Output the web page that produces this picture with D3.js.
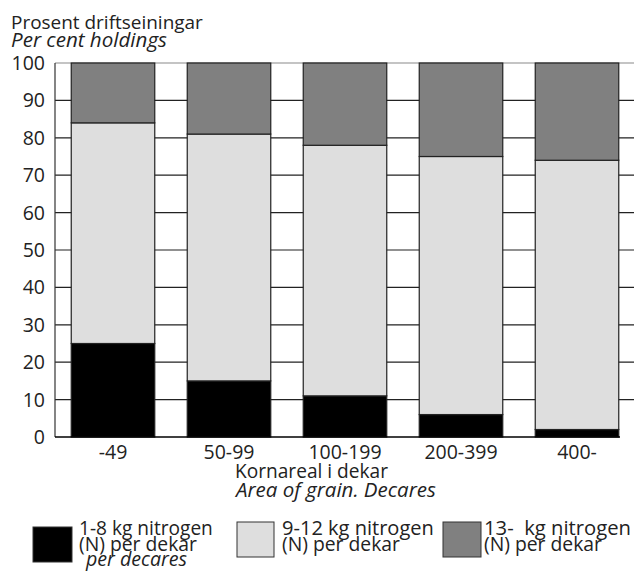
<!DOCTYPE html>
<html>
<head>
<meta charset="utf-8">
<script src="https://cdn.jsdelivr.net/npm/d3@7"></script>
<style>
body { margin:0; background:#fff; }
svg text { font-family: "Open Sans", "Noto Sans", sans-serif; fill:#222; }
</style>
</head>
<body>
<svg id="chart" width="634" height="573"></svg>
<script>
const categories = ["-49", "50-99", "100-199", "200-399", "400-"];
const low = [25, 15, 11, 6, 2];        // 1-8 kg
const mid = [59, 66, 67, 69, 72];      // 9-12 kg
const high = [16, 19, 22, 25, 26];     // 13- kg
const yTicks = [0, 10, 20, 30, 40, 50, 60, 70, 80, 90, 100];
const seriesKeys = ["low", "mid", "high"];
const colors = { low: "#000000", mid: "#dedede", high: "#808080" };

(function () {
const svg = d3.select("#chart");
const pLeft = 55, pRight = 635, pTop = 63, pBottom = 437;

const x = d3.scaleBand().domain(categories).range([pLeft, pRight]).paddingInner(0.28).paddingOuter(0.14);
const y = d3.scaleLinear().domain([0, 100]).range([pBottom, pTop]);

const table = categories.map((c, i) => ({ cat: c, low: low[i], mid: mid[i], high: high[i] }));
const stacked = d3.stack().keys(seriesKeys)(table);

// fit a text to a target width
function fit(sel, w) {
  sel.attr("font-size", 20);
  const m = sel.node().getComputedTextLength();
  if (m > 0) sel.attr("font-size", (20 * w / m).toFixed(2));
  return sel;
}

// gridlines
svg.append("g").selectAll("line").data(yTicks.filter(d => d > 0)).join("line")
  .attr("x1", pLeft).attr("x2", 634)
  .attr("y1", d => y(d)).attr("y2", d => y(d))
  .attr("stroke", d => d === 100 ? "#8a8a8a" : "#222").attr("stroke-width", 1.2);

// bars
svg.append("g").selectAll("g").data(stacked).join("g")
  .attr("fill", d => colors[d.key])
  .selectAll("rect").data(d => d).join("rect")
  .attr("x", d => x(d.data.cat))
  .attr("width", x.bandwidth())
  .attr("y", d => y(d[1]))
  .attr("height", d => y(d[0]) - y(d[1]))
  .attr("stroke", "#222").attr("stroke-width", 1.2);

// y axis line
svg.append("line").attr("x1", pLeft).attr("x2", pLeft).attr("y1", pTop).attr("y2", pBottom)
  .attr("stroke", "#333").attr("stroke-width", 1.2);
// baseline
svg.append("line").attr("x1", pLeft).attr("x2", 620).attr("y1", pBottom).attr("y2", pBottom)
  .attr("stroke", "#000").attr("stroke-width", 1.5);

// y tick labels
svg.append("g").selectAll("text").data(yTicks).join("text")
  .attr("x", 45).attr("y", d => y(d) + 7)
  .attr("text-anchor", "end").attr("font-size", 19.5)
  .text(d => d);

// x tick labels
svg.append("g").selectAll("text").data(categories).join("text")
  .attr("x", d => x(d) + x.bandwidth() / 2).attr("y", 459)
  .attr("text-anchor", "middle").attr("font-size", 19.5)
  .text(d => d);

// titles
fit(svg.append("text").attr("x", 11).attr("y", 29).text("Prosent driftseiningar"), 192);
fit(svg.append("text").attr("x", 11).attr("y", 47).attr("font-style", "italic").text("Per cent holdings"), 156);
fit(svg.append("text").attr("x", 235).attr("y", 478).text("Kornareal i dekar"), 153);
fit(svg.append("text").attr("x", 236).attr("y", 497).attr("font-style", "italic").text("Area of grain. Decares"), 200);

// legend
const legendItems = [
  { key: "low", sx: 33, sy: 527, sw: 39, sh: 35, tx: 79, ty: 535, lines: ["1-8 kg nitrogen", "(N) per dekar"], widths: [134, 118], extra: "per decares" },
  { key: "mid", sx: 237, sy: 522, sw: 37, sh: 35, tx: 282, ty: 535, lines: ["9-12 kg nitrogen", "(N) per dekar"], widths: [152, 118] },
  { key: "high", sx: 443, sy: 522, sw: 38, sh: 35, tx: 484, ty: 535, lines: ["13-  kg nitrogen", "(N) per dekar"], widths: [147, 118] }
];
const lg = svg.append("g");
legendItems.forEach(it => {
  lg.append("rect").attr("x", it.sx).attr("y", it.sy).attr("width", it.sw).attr("height", it.sh)
    .attr("fill", colors[it.key]).attr("stroke", "#333").attr("stroke-width", 1);
  it.lines.forEach((l, j) => {
    fit(lg.append("text").attr("x", it.tx).attr("y", it.ty + j * 15.5)
      .style("white-space", "pre").text(l), it.widths[j]);
  });
  if (it.extra) {
    fit(lg.append("text").attr("x", it.tx + 7).attr("y", 566)
      .attr("font-style", "italic").text(it.extra), 101);
  }
});
})();
</script>
</body>
</html>
